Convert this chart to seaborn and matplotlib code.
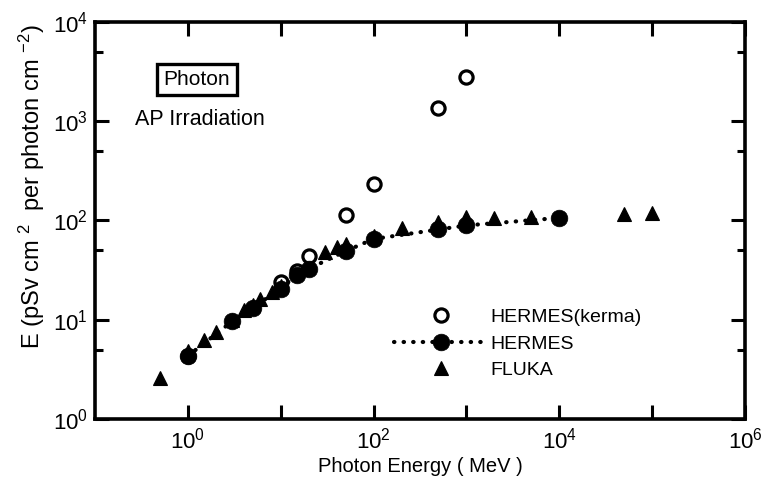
import numpy as np
import pandas as pd
import seaborn as sns
import matplotlib.pyplot as plt
from matplotlib.ticker import LogLocator, NullLocator

# Data
kerma_x = [1, 10, 15, 20, 50, 100, 500, 1000]
kerma_y = [4.3, 24, 31, 44, 113, 235, 1350, 2770]

hermes_x = [1, 3, 5, 10, 15, 20, 50, 100, 500, 1000, 10000]
hermes_y = [4.3, 9.6, 13.2, 20.5, 28.5, 32.5, 49, 65, 81, 89, 106]

fluka_x = [0.5, 1, 1.5, 2, 3, 4, 5, 6, 8, 10, 30, 40, 50, 100, 200, 500,
           1000, 2000, 5000, 50000, 100000]
fluka_y = [2.6, 4.8, 6.3, 7.5, 10, 12.5, 14, 16, 19, 22, 48, 54, 58, 70, 84,
           96, 108, 106, 108, 116, 118]

xtick_vals = [1e0, 1e1, 1e2, 1e3, 1e4, 1e5, 1e6]
xtick_labels = ['$10^{0}$', '', '$10^{2}$', '', '$10^{4}$', '', '$10^{6}$']
ytick_vals = [1e0, 1e1, 1e2, 1e3, 1e4]
ytick_labels = ['$10^{0}$', '$10^{1}$', '$10^{2}$', '$10^{3}$', '$10^{4}$']

sns.set_style('ticks')
plt.rcParams['font.family'] = ['Liberation Sans', 'DejaVu Sans']
plt.rcParams['mathtext.fontset'] = 'custom'
plt.rcParams['mathtext.rm'] = 'Liberation Sans'
plt.rcParams['mathtext.it'] = 'Liberation Sans'
plt.rcParams['text.color'] = 'black'
plt.rcParams['axes.labelcolor'] = 'black'
plt.rcParams['xtick.color'] = 'black'
plt.rcParams['ytick.color'] = 'black'

fig = plt.figure(figsize=(7.65, 4.86), dpi=100)
ax = fig.add_axes([0.124, 0.138, 0.850, 0.817])

kerma = pd.DataFrame({'E': kerma_x, 'D': kerma_y})
hermes = pd.DataFrame({'E': hermes_x, 'D': hermes_y})
fluka = pd.DataFrame({'E': fluka_x, 'D': fluka_y})

sns.lineplot(data=fluka, x='E', y='D', ax=ax, linestyle='none', marker='^',
             markersize=10, color='black', markeredgecolor='black',
             markeredgewidth=0.8, label='FLUKA')
sns.lineplot(data=hermes, x='E', y='D', ax=ax, color='black', marker='o',
             markersize=12, markeredgecolor='black', markeredgewidth=0.5,
             linewidth=3, linestyle=(0, (0.1, 2.2)),
             dash_capstyle='round', label='HERMES')
sns.lineplot(data=kerma, x='E', y='D', ax=ax, linestyle='none', marker='o',
             markersize=9.5, markerfacecolor='none', markeredgecolor='black',
             markeredgewidth=2.3, color='black', label='HERMES(kerma)')

ax.set_xscale('log')
ax.set_yscale('log')
ax.set_xlim(0.1, 1e6)
ax.set_ylim(1, 1e4)

ax.set_xticks(xtick_vals)
ax.set_xticklabels(xtick_labels)
ax.xaxis.set_minor_locator(NullLocator())
ax.set_yticks(ytick_vals)
ax.set_yticklabels(ytick_labels)
ax.yaxis.set_minor_locator(LogLocator(base=10, subs=[5]))

ax.tick_params(which='both', direction='in', top=True, right=True,
               width=2.2, labelsize=16, color='black')
ax.tick_params(which='major', length=10)
ax.tick_params(which='minor', length=5.5)
ax.tick_params(axis='x', pad=6)
ax.tick_params(axis='y', pad=5)
for sp in ax.spines.values():
    sp.set_linewidth(2.6)
    sp.set_color('black')

ax.set_xlabel('Photon Energy ( MeV )', fontsize=14.5, labelpad=3)
ax.set_ylabel('E (pSv cm $^{2}$  per photon cm $^{-2}$)', fontsize=17)
ax.yaxis.set_label_coords(-0.074, 0.585)

ax.text(0.157, 0.855, 'Photon', transform=ax.transAxes, fontsize=15,
        ha='center', va='center',
        bbox=dict(boxstyle='square,pad=0.3', fc='white', ec='black', lw=2.4))
ax.text(0.162, 0.753, 'AP Irradiation', transform=ax.transAxes, fontsize=15.5,
        ha='center', va='center')

h, l = ax.get_legend_handles_labels()
order = [l.index('HERMES(kerma)'), l.index('HERMES'), l.index('FLUKA')]
ax.legend([h[i] for i in order], [l[i] for i in order], loc='upper left',
          bbox_to_anchor=(0.46, 0.278), frameon=False, fontsize=14,
          handlelength=4.8, handletextpad=0.15, labelspacing=0.45,
          borderpad=0, borderaxespad=0)

fig.savefig('out.png', dpi=100)
